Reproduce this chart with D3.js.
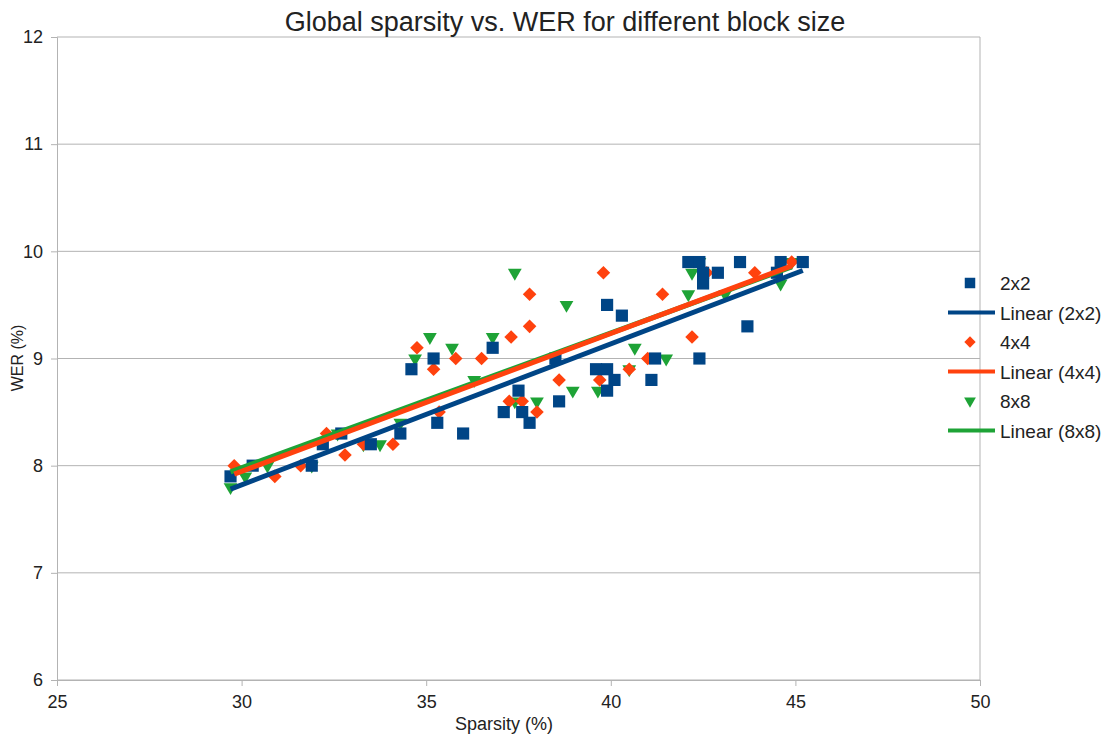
<!DOCTYPE html>
<html>
<head>
<meta charset="utf-8">
<script src="https://cdn.jsdelivr.net/npm/d3@7"></script>
<style>
  body { margin: 0; background: #fff; }
  svg text { font-family: "Liberation Sans", Arial, sans-serif; fill: #222; }
</style>
</head>
<body>
<div id="chart"></div>
<script>
// sparsity (%) and WER (%)
const sparsity2x2 = [29.7, 30.3, 31.9, 32.2, 32.7, 33.5, 34.3, 34.6, 35.2, 35.3, 36.0, 36.8, 37.1, 37.5, 37.6, 37.8, 38.5, 38.6, 39.6, 39.9, 39.9, 40.1, 39.9, 40.3, 41.1, 41.2, 42.4, 43.7, 42.1, 42.4, 42.5, 42.5, 42.9, 43.5, 44.6, 45.2, 44.5];
const wer2x2      = [7.9, 8.0, 8.0, 8.2, 8.3, 8.2, 8.3, 8.9, 9.0, 8.4, 8.3, 9.1, 8.5, 8.7, 8.5, 8.4, 9.0, 8.6, 8.9, 8.9, 8.7, 8.8, 9.5, 9.4, 8.8, 9.0, 9.0, 9.3, 9.9, 9.9, 9.8, 9.7, 9.8, 9.9, 9.9, 9.9, 9.8];

const sparsity4x4 = [29.8, 30.9, 31.6, 32.3, 32.8, 33.3, 34.1, 34.75, 35.2, 35.35, 35.8, 36.5, 37.3, 37.25, 37.6, 37.8, 37.8, 38.0, 38.6, 39.7, 39.8, 40.5, 41.0, 41.4, 42.2, 42.6, 43.9, 44.9];
const wer4x4      = [8.0, 7.9, 8.0, 8.3, 8.1, 8.2, 8.2, 9.1, 8.9, 8.5, 9.0, 9.0, 9.2, 8.6, 8.6, 9.3, 9.6, 8.5, 8.8, 8.8, 9.8, 8.9, 9.0, 9.6, 9.2, 9.8, 9.8, 9.9];

const sparsity8x8 = [29.7, 30.1, 30.7, 31.9, 32.6, 33.3, 33.75, 34.3, 34.7, 35.1, 35.7, 36.3, 36.8, 37.4, 37.4, 38.0, 38.8, 38.97, 39.65, 40.5, 40.65, 41.5, 42.1, 42.2, 42.4, 43.1, 44.6, 44.9];
const wer8x8      = [7.8, 7.9, 8.0, 8.0, 8.3, 8.2, 8.2, 8.4, 9.0, 9.2, 9.1, 8.8, 9.2, 9.8, 8.6, 8.6, 9.5, 8.7, 8.7, 8.9, 9.1, 9.0, 9.6, 9.8, 9.9, 9.6, 9.7, 9.9];

const xTicks = [25, 30, 35, 40, 45, 50];
const yTicks = [6, 7, 8, 9, 10, 11, 12];

const series = [
  {name: "2x2", xs: sparsity2x2, ys: wer2x2, color: "#004586", shape: "square"},
  {name: "4x4", xs: sparsity4x4, ys: wer4x4, color: "#ff420e", shape: "diamond"},
  {name: "8x8", xs: sparsity8x8, ys: wer8x8, color: "#1ea336", shape: "triangle"}
];

const W = 1114, H = 737;
const margin = {top: 37, right: 134, bottom: 57, left: 57};
const width = W - margin.left - margin.right,
      height = H - margin.top - margin.bottom;

const svg = d3.select("#chart").append("svg")
  .attr("width", W).attr("height", H);

const g = svg.append("g").attr("transform", `translate(${margin.left},${margin.top})`);

const x = d3.scaleLinear().domain([25, 50]).range([0, width]);
const y = d3.scaleLinear().domain([6, 12]).range([height, 0]);

// horizontal grid
g.append("g")
  .selectAll("line")
  .data(yTicks)
  .join("line")
  .attr("x1", 0).attr("x2", width)
  .attr("y1", d => y(d)).attr("y2", d => y(d))
  .attr("stroke", "#b3b3b3").attr("stroke-width", 1);

g.append("line")
  .attr("x1", width).attr("x2", width)
  .attr("y1", 0).attr("y2", height)
  .attr("stroke", "#b3b3b3");

const xAxis = g.append("g")
  .attr("transform", `translate(0,${height})`)
  .call(d3.axisBottom(x).tickValues(xTicks).tickFormat(d3.format("d")).tickSize(6).tickPadding(9));
const yAxis = g.append("g")
  .call(d3.axisLeft(y).tickValues(yTicks).tickFormat(d3.format("d")).tickSize(6).tickPadding(8));

[xAxis, yAxis].forEach(a => {
  a.select(".domain").attr("stroke", "#b3b3b3");
  a.selectAll(".tick line").attr("stroke", "#b3b3b3");
  a.selectAll(".tick text").attr("font-size", 18).attr("fill", "#222")
    .attr("font-family", "Liberation Sans, Arial, sans-serif");
});

const symbols = {
  square: d3.symbol().type(d3.symbolSquare).size(148),
  diamond: d3.symbol().type(d3.symbolSquare).size(92),
  triangle: d3.symbol().type(d3.symbolTriangle).size(82)
};
const rot = {square: 0, diamond: 45, triangle: 180};

// points: 8x8 first so the blue squares sit on top
series.slice().reverse().forEach(s => {
  g.append("g").selectAll("path")
    .data(s.xs.map((v, i) => [v, s.ys[i]]))
    .join("path")
    .attr("d", symbols[s.shape])
    .attr("transform", d => `translate(${x(d[0])},${y(d[1])}) rotate(${rot[s.shape]})`)
    .attr("fill", s.color);
});

// least squares trendlines
function fit(xs, ys) {
  const mx = d3.mean(xs), my = d3.mean(ys);
  const b = d3.sum(xs, (v, i) => (v - mx) * (ys[i] - my)) / d3.sum(xs, v => (v - mx) * (v - mx));
  return {a: my - b * mx, b: b};
}

[0, 2, 1].forEach(k => {
  const s = series[k];
  const f = fit(s.xs, s.ys);
  const ext = d3.extent(s.xs);
  g.append("line")
    .attr("x1", x(ext[0])).attr("y1", y(f.a + f.b * ext[0]))
    .attr("x2", x(ext[1])).attr("y2", y(f.a + f.b * ext[1]))
    .attr("stroke", s.color).attr("stroke-width", 5);
});

svg.append("text")
  .attr("x", 565).attr("y", 31)
  .attr("text-anchor", "middle")
  .attr("font-size", 27)
  .text("Global sparsity vs. WER for different block size");

svg.append("text")
  .attr("x", 504).attr("y", 730)
  .attr("text-anchor", "middle")
  .attr("font-size", 18)
  .text("Sparsity (%)");

svg.append("text")
  .attr("transform", "translate(23,358) rotate(-90)")
  .attr("text-anchor", "middle")
  .attr("font-size", 16)
  .text("WER (%)");

// legend
const legend = svg.append("g").attr("transform", "translate(948,283)");
series.forEach((s, i) => {
  const row = legend.append("g").attr("transform", `translate(0,${i * 59})`);
  const sym = s.shape === "triangle"
    ? d3.symbol().type(d3.symbolTriangle).size(60)
    : d3.symbol().type(d3.symbolSquare).size(s.shape === "square" ? 110 : 64);
  row.append("path")
    .attr("d", sym)
    .attr("transform", `translate(22,0) rotate(${rot[s.shape]})`)
    .attr("fill", s.color);
  row.append("text").attr("x", 52).attr("y", 7).attr("font-size", 19).text(s.name);
  row.append("line")
    .attr("x1", 0).attr("x2", 47).attr("y1", 29.5).attr("y2", 29.5)
    .attr("stroke", s.color).attr("stroke-width", 4);
  row.append("text").attr("x", 52).attr("y", 36.5).attr("font-size", 19)
    .text(`Linear (${s.name})`);
});
</script>
</body>
</html>
